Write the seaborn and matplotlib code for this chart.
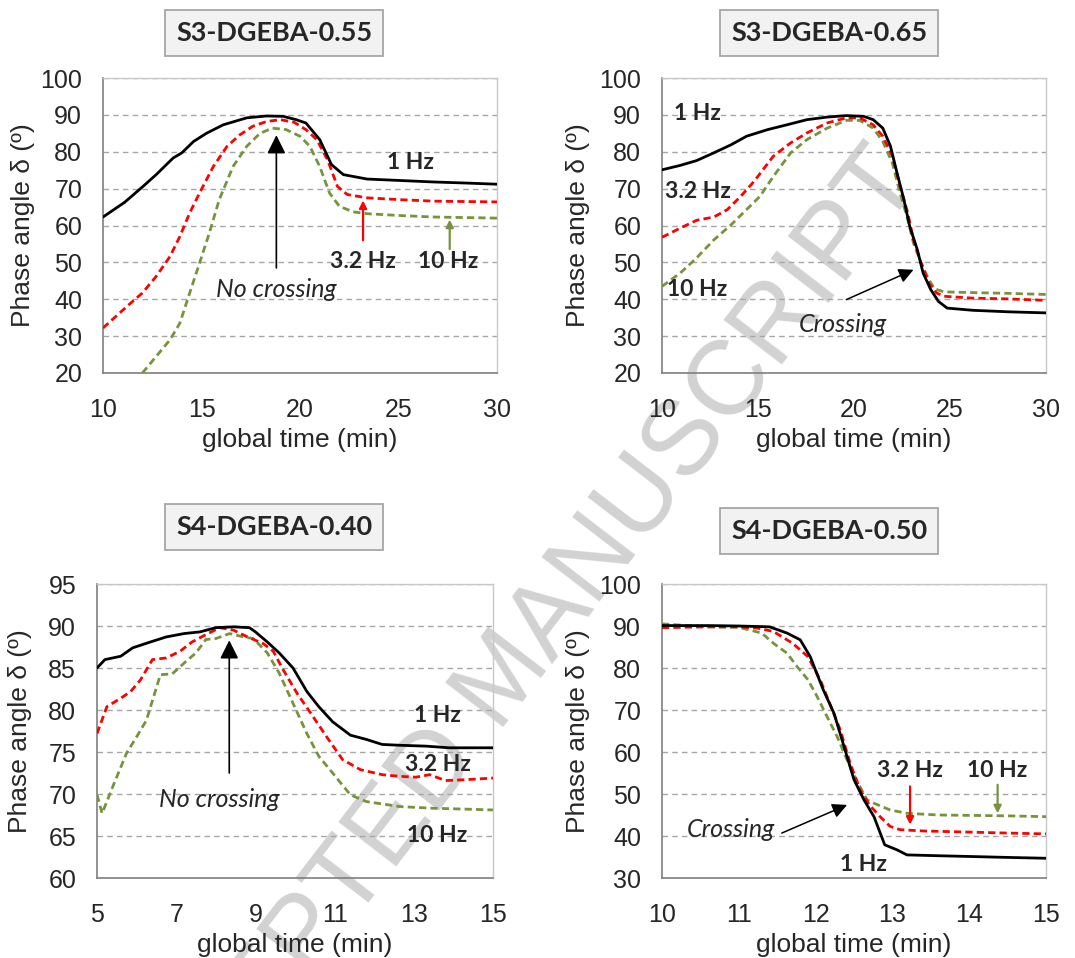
import matplotlib
matplotlib.use("Agg")
import matplotlib.pyplot as plt
from matplotlib.ticker import MultipleLocator
import numpy as np
import seaborn as sns
import pandas as pd

# ---------------- data ----------------
titles = ["S3-DGEBA-0.55", "S3-DGEBA-0.65", "S4-DGEBA-0.40", "S4-DGEBA-0.50"]
series_names = ["1 Hz", "3.2 Hz", "10 Hz"]

p1_x_1hz = [10, 11.1, 12.03, 12.7, 13.56, 14, 14.6, 15.25, 16.1, 17.3, 18.3, 19.15, 19.8, 20.3, 21, 21.6, 22.2, 23.4, 25.1, 26.8, 28.5, 30]
p1_y_1hz = [62.3, 66.3, 70.6, 73.8, 78.3, 79.7, 82.8, 85, 87.3, 89.2, 89.7, 89.6, 88.7, 87.8, 83.3, 76.5, 73.8, 72.6, 72.2, 71.8, 71.5, 71.2]
p1_x_32hz = [10, 10.85, 11.5, 12, 12.7, 13.4, 13.9, 14.4, 14.9, 15.6, 16.3, 16.95, 17.6, 18.3, 19, 19.7, 20.3, 20.85, 21.4, 21.9, 22.4, 23.4, 25.1, 26.8, 30]
p1_y_32hz = [32.2, 36.3, 39.4, 41.7, 46.2, 51.6, 57, 63.4, 68.8, 76, 81.5, 84.6, 86.9, 88.2, 88.7, 88, 86, 83.3, 77.8, 70.6, 68.4, 67.5, 67, 66.6, 66.4]
p1_x_10hz = [12, 12.7, 13.4, 13.9, 14.4, 14.9, 15.4, 15.9, 16.6, 17.3, 17.97, 18.6, 19.3, 20, 20.5, 21, 21.5, 22, 22.7, 23.4, 25.1, 26.8, 30]
p1_y_10hz = [20, 24.5, 29, 33.5, 41.7, 49.8, 58, 67, 76, 81.5, 85, 86.4, 86, 84.2, 81.5, 76, 68.8, 65.2, 63.7, 63.2, 62.7, 62.3, 62]

p2_x_1hz = [10, 10.95, 11.8, 12.7, 13.6, 14.4, 15.5, 16.5, 17.55, 18.6, 19.6, 20.5, 21, 21.5, 21.9, 22.2, 22.6, 22.9, 23.3, 23.6, 24, 24.4, 24.85, 26.2, 28, 30]
p2_y_1hz = [75.1, 76.3, 77.6, 79.7, 81.9, 84.2, 86, 87.3, 88.7, 89.4, 89.8, 89.6, 88.7, 86.4, 81.5, 75.1, 67, 59.8, 53.4, 47.1, 42.6, 39.4, 37.6, 37, 36.6, 36.3]
p2_x_32hz = [10, 10.95, 11.8, 12.7, 13.4, 14.1, 14.8, 15.8, 16.7, 17.55, 18.6, 19.6, 20.3, 21, 21.5, 22, 22.4, 22.8, 23.1, 23.5, 23.9, 24.3, 24.7, 26.2, 28, 30]
p2_y_32hz = [56.8, 59.3, 61.4, 62.3, 64.3, 67.9, 72, 78.8, 82.4, 85.1, 87.8, 89.2, 89.2, 87.3, 84.2, 78.8, 70.6, 63.4, 56.1, 49.8, 44.4, 41.7, 40.8, 40.3, 40.1, 39.7]
p2_x_10hz = [10, 10.95, 11.8, 12.7, 13.6, 14.4, 15.1, 15.8, 16.7, 17.55, 18.6, 19.6, 20.3, 21, 21.5, 22, 22.4, 22.8, 23.1, 23.5, 23.9, 24.2, 24.7, 26.2, 28, 30]
p2_y_10hz = [43.5, 47.1, 51.2, 56.1, 60.2, 64.3, 67.9, 73.3, 79.7, 83.3, 86.4, 88.5, 88.5, 86.4, 82.8, 76.9, 68.8, 61.6, 55.2, 49.8, 45.3, 42.8, 42, 41.8, 41.6, 41.3]

p3_x_1hz = [5, 5.2, 5.6, 5.9, 6.35, 6.75, 7.2, 7.6, 8.0, 8.45, 8.85, 9.0, 9.3, 9.6, 9.95, 10.3, 10.6, 10.95, 11.4, 11.8, 12.2, 12.65, 13.3, 13.9, 15]
p3_y_1hz = [85, 86, 86.4, 87.4, 88.1, 88.7, 89.1, 89.3, 89.8, 89.9, 89.8, 89.3, 88.1, 86.8, 85, 82.2, 80.4, 78.6, 77, 76.5, 75.9, 75.8, 75.7, 75.5, 75.5]
p3_x_32hz = [5, 5.25, 5.6, 5.85, 6.1, 6.4, 6.75, 7.1, 7.4, 7.8, 8.1, 8.45, 8.8, 9.2, 9.45, 9.7, 10.05, 10.4, 10.8, 11.2, 11.65, 12.2, 12.65, 13.05, 13.4, 13.8, 14.3, 15]
p3_y_32hz = [77.2, 80.4, 81.4, 82.2, 83.6, 86, 86.2, 87, 88.1, 89.1, 89.8, 89.5, 88.7, 87.9, 87, 84.8, 82, 79.6, 76.8, 74.1, 72.9, 72.3, 72.1, 72, 72.3, 71.6, 71.7, 71.9]
p3_x_10hz = [5, 5.13, 5.4, 5.75, 6.0, 6.25, 6.6, 6.9, 7.25, 7.5, 7.75, 8, 8.35, 8.7, 8.95, 9.3, 9.6, 9.95, 10.3, 10.6, 10.95, 11.4, 11.8, 12.65, 13.5, 14.3, 15]
p3_y_10hz = [69.9, 67.7, 70.9, 74.9, 76.8, 78.8, 84.2, 84.3, 85.8, 86.8, 88.4, 88.5, 89.1, 88.7, 88.5, 86.8, 84.4, 80.8, 77.2, 74.5, 72.5, 69.9, 69.1, 68.5, 68.3, 68.2, 68.1]

p4_x_1hz = [10, 10.6, 11.0, 11.4, 11.63, 11.8, 11.93, 12.1, 12.24, 12.37, 12.5, 12.63, 12.76, 12.9, 13.06, 13.19, 13.6, 14.06, 14.5, 15]
p4_y_1hz = [90.1, 90.1, 90, 89.8, 88.3, 86.7, 82.7, 74.8, 69.2, 61.3, 53.4, 48.6, 44.6, 37.9, 36.7, 35.5, 35.3, 35.1, 34.9, 34.7]
p4_x_32hz = [10, 10.6, 11.0, 11.24, 11.45, 11.7, 11.9, 12.06, 12.2, 12.32, 12.45, 12.58, 12.7, 12.84, 12.97, 13.1, 13.4, 14.06, 14.5, 15]
p4_y_32hz = [89.6, 89.8, 89.8, 89.5, 88.7, 85.9, 82.7, 77.2, 70.8, 65.3, 57.3, 51, 47.4, 44.6, 42.3, 41.5, 41.2, 40.9, 40.7, 40.5]
p4_x_10hz = [10, 10.6, 11.0, 11.3, 11.45, 11.63, 11.76, 11.9, 12.02, 12.15, 12.28, 12.41, 12.54, 12.67, 12.76, 12.97, 13.19, 13.6, 14.5, 15]
p4_y_10hz = [90.5, 89.8, 89.7, 88.3, 85.9, 83.5, 80.3, 77.2, 73.2, 68.4, 63.7, 58.1, 53, 48.6, 47.8, 46.2, 45.4, 45, 44.8, 44.6]

panel_data = [
    [(p1_x_1hz, p1_y_1hz), (p1_x_32hz, p1_y_32hz), (p1_x_10hz, p1_y_10hz)],
    [(p2_x_1hz, p2_y_1hz), (p2_x_32hz, p2_y_32hz), (p2_x_10hz, p2_y_10hz)],
    [(p3_x_1hz, p3_y_1hz), (p3_x_32hz, p3_y_32hz), (p3_x_10hz, p3_y_10hz)],
    [(p4_x_1hz, p4_y_1hz), (p4_x_32hz, p4_y_32hz), (p4_x_10hz, p4_y_10hz)],
]

xlims = [(10, 30), (10, 30), (5, 15), (10, 15)]
ylims = [(20, 100), (20, 100), (60, 95), (30, 100)]
xmaj = [5, 5, 2, 1]
xmin = [1, 1, 0.4, 0.2]
ymaj = [10, 10, 5, 10]
ymin = [2, 2, 1, 2]

# ---------------- style ----------------
sns.set_style("white")
plt.rcParams["font.family"] = ["Liberation Sans", "DejaVu Sans"]
BOLD = ["Lato", "DejaVu Sans"]

colors = ["black", "#ff0000", "#77933c"]
styles = ["-", (0, (2.6, 1.5)), (0, (2.6, 1.5))]
widths = [2.0, 2.0, 2.0]

fig = plt.figure(figsize=(10.75, 9.58), dpi=100)
W, H = 1075, 958
boxes_px = [(103, 497, 78, 373), (662, 1046, 78, 373), (97, 493, 584, 878), (662, 1046, 584, 878)]
title_pos = [(274, 33), (829, 33), (274, 527), (829, 531)]
ylab_x = [-0.203, -0.218, -0.194, -0.218]
xlab_y = [-0.227, -0.227, -0.228, -0.228]

# watermark
fig.text(505 / W, 1 - 680 / H, "ACCEPTED MANUSCRIPT", rotation=52.5, ha="center", va="center",
         rotation_mode="anchor", fontsize=76, color="#d2d2d2", zorder=-5,
         family=["Liberation Sans Narrow", "Liberation Sans"])

axes = []
for i in range(4):
    l, r, t, b = boxes_px[i]
    ax = fig.add_axes([l / W, 1 - b / H, (r - l) / W, (b - t) / H])
    ax.set_facecolor("none")
    axes.append(ax)
    for j in range(3):
        xs, ys = panel_data[i][j]
        df = pd.DataFrame({"t": xs, "d": ys})
        sns.lineplot(data=df, x="t", y="d", ax=ax, color=colors[j], linestyle=styles[j],
                     linewidth=widths[j], estimator=None, sort=False, zorder=5 - j)
    x0, x1 = xlims[i]
    y0, y1 = ylims[i]
    ax.set_xlim(x0, x1)
    ax.set_ylim(y0, y1)
    ax.set_xticks(np.arange(x0, x1 + 1e-6, xmaj[i]))
    ax.set_xticks(np.arange(x0, x1 + 1e-6, xmin[i]), minor=True)
    ax.set_yticks(np.arange(y0, y1 + 1e-6, ymaj[i]))
    ax.set_yticks(np.arange(y0, y1 + 1e-6, ymin[i]), minor=True)
    ax.set_xticklabels([f"{v:g}" for v in np.arange(x0, x1 + 1e-6, xmaj[i])])
    ax.grid(axis="y", which="major", color="#a6a6a6", linestyle=(0, (4, 3)), linewidth=1.0)
    ax.set_axisbelow(True)
    ax.tick_params(which="both", direction="out", length=6, width=1, color="#808080")
    ax.tick_params(which="major", labelsize=18, pad=9)
    ax.tick_params(axis="x", which="major", pad=12)
    for s in ["left", "bottom"]:
        ax.spines[s].set_color("#7f7f7f")
        ax.spines[s].set_linewidth(1.2)
    for s in ["top", "right"]:
        ax.spines[s].set_color("#c8c8c8")
        ax.spines[s].set_linewidth(1.0)
        ax.spines[s].set_visible(True)
    ax.set_xlabel("global time (min)", fontsize=19, va="center")
    ax.set_ylabel("Phase angle δ (º)", fontsize=19, va="center")
    ax.xaxis.set_label_coords(0.5, xlab_y[i])
    ax.yaxis.set_label_coords(ylab_x[i], 0.5)
    tx, ty = title_pos[i]
    fig.text(tx / W, 1 - ty / H, titles[i], ha="center", va="center", fontsize=19.5,
             fontweight="bold", family=BOLD,
             bbox=dict(boxstyle="square,pad=0.42", fc="#f2f2f2", ec="#a6a6a6", lw=1.3))

lab_kw = dict(fontsize=16.5, fontweight="bold", family=BOLD, ha="center", va="center")
it_kw = dict(fontsize=18, style="italic", family=BOLD, ha="center", va="center")
big_arrow = dict(arrowstyle="-|>", color="black", lw=1.2, mutation_scale=28, shrinkA=0, shrinkB=0)

# panel 1
ax = axes[0]
ax.text(25.6, 77, "1 Hz", **lab_kw)
ax.text(23.2, 50.3, "3.2 Hz", **lab_kw)
ax.text(27.5, 50.3, "10 Hz", **lab_kw)
ax.text(18.8, 42.6, "No crossing", **it_kw)
ax.annotate("", xy=(18.8, 84.5), xytext=(18.8, 48.5), arrowprops=big_arrow)
ax.annotate("", xy=(23.2, 66.8), xytext=(23.2, 56), arrowprops=dict(arrowstyle="-|>", color="#ff0000", lw=1.6, mutation_scale=11, shrinkA=0, shrinkB=0))
ax.annotate("", xy=(27.6, 61.6), xytext=(27.6, 53.6), arrowprops=dict(arrowstyle="-|>", color="#77933c", lw=1.6, mutation_scale=11, shrinkA=0, shrinkB=0))

# panel 2
ax = axes[1]
ax.text(11.85, 90.5, "1 Hz", **lab_kw)
ax.text(11.85, 69.3, "3.2 Hz", **lab_kw)
ax.text(11.85, 42.6, "10 Hz", **lab_kw)
ax.text(19.4, 33.1, "Crossing", **it_kw)
ax.annotate("", xy=(23.1, 48), xytext=(19.6, 39.9), arrowprops=dict(arrowstyle="-|>", color="black", lw=1.1, mutation_scale=22, shrinkA=0, shrinkB=0))

# panel 3
ax = axes[2]
ax.text(13.6, 79.4, "1 Hz", **lab_kw)
ax.text(13.6, 73.5, "3.2 Hz", **lab_kw)
ax.text(13.6, 65, "10 Hz", **lab_kw)
ax.text(8.1, 69.3, "No crossing", **it_kw)
ax.annotate("", xy=(8.34, 88.3), xytext=(8.34, 72.5), arrowprops=big_arrow)

# panel 4
ax = axes[3]
ax.text(13.23, 55.6, "3.2 Hz", **lab_kw)
ax.text(14.36, 55.6, "10 Hz", **lab_kw)
ax.text(12.63, 33.1, "1 Hz", **lab_kw)
ax.text(10.9, 41.5, "Crossing", **it_kw)
ax.annotate("", xy=(13.23, 42.7), xytext=(13.23, 51.8), arrowprops=dict(arrowstyle="-|>", color="#ff0000", lw=1.6, mutation_scale=11, shrinkA=0, shrinkB=0))
ax.annotate("", xy=(14.37, 45.4), xytext=(14.37, 52.2), arrowprops=dict(arrowstyle="-|>", color="#77933c", lw=1.6, mutation_scale=11, shrinkA=0, shrinkB=0))
ax.annotate("", xy=(12.41, 47.4), xytext=(11.56, 40.7), arrowprops=dict(arrowstyle="-|>", color="black", lw=1.1, mutation_scale=22, shrinkA=0, shrinkB=0))

fig.savefig("out.png", dpi=100)
